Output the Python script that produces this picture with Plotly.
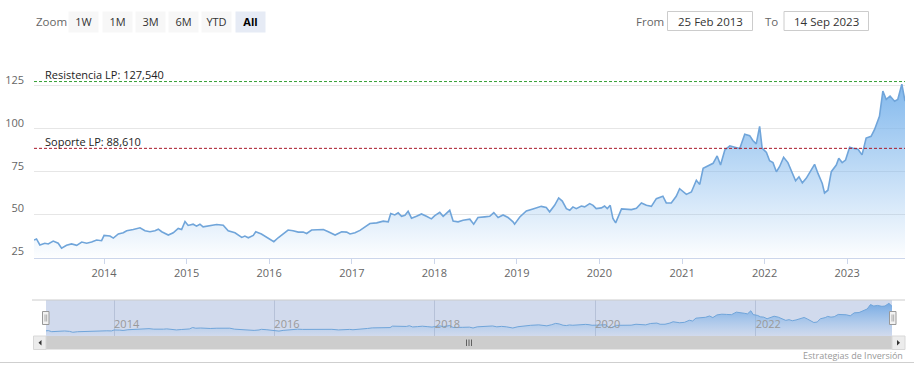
import plotly.graph_objects as go

# ---------------- data ----------------
dates = [
    "2013-02-25", "2013-03-08", "2013-03-23", "2013-04-14", "2013-04-29", "2013-05-21", "2013-06-12", "2013-06-27",
    "2013-07-19", "2013-08-10", "2013-09-02", "2013-09-24", "2013-10-16", "2013-11-07", "2013-11-29", "2013-12-21",
    "2014-01-01", "2014-01-27", "2014-02-11", "2014-03-05", "2014-03-27", "2014-04-11", "2014-05-10", "2014-06-09",
    "2014-07-01", "2014-07-23", "2014-08-14", "2014-08-29", "2014-09-13", "2014-10-12", "2014-11-03", "2014-11-25",
    "2014-12-10", "2014-12-25", "2015-01-08", "2015-01-30", "2015-02-14", "2015-03-01", "2015-03-15", "2015-04-14",
    "2015-05-14", "2015-06-12", "2015-07-04", "2015-08-03", "2015-09-02", "2015-09-16", "2015-10-01", "2015-10-23",
    "2015-11-03", "2015-11-28", "2015-12-20", "2016-01-11", "2016-01-22", "2016-02-10", "2016-03-03", "2016-03-25",
    "2016-04-16", "2016-05-09", "2016-05-31", "2016-06-15", "2016-07-07", "2016-07-29", "2016-08-28", "2016-09-19",
    "2016-10-19", "2016-11-17", "2016-12-09", "2016-12-24", "2017-01-15", "2017-02-06", "2017-02-28", "2017-03-22",
    "2017-04-21", "2017-05-20", "2017-06-11", "2017-06-22", "2017-07-10", "2017-07-25", "2017-08-09", "2017-08-24",
    "2017-09-07", "2017-09-22", "2017-10-14", "2017-11-05", "2017-11-27", "2017-12-19", "2018-01-03", "2018-01-25",
    "2018-02-09", "2018-02-24", "2018-03-10", "2018-03-25", "2018-04-16", "2018-05-08", "2018-06-07", "2018-06-24",
    "2018-07-13", "2018-08-12", "2018-09-03", "2018-09-21", "2018-10-10", "2018-11-01", "2018-11-23", "2018-12-15",
    "2018-12-22", "2019-01-14", "2019-02-12", "2019-03-13", "2019-04-19", "2019-05-11", "2019-05-26", "2019-06-17",
    "2019-07-05", "2019-07-21", "2019-08-08", "2019-08-23", "2019-09-06", "2019-09-21", "2019-10-13", "2019-10-28",
    "2019-11-19", "2019-12-04", "2019-12-18", "2020-01-10", "2020-01-24", "2020-02-05", "2020-02-18", "2020-03-01",
    "2020-03-13", "2020-04-08", "2020-04-30", "2020-05-22", "2020-06-13", "2020-07-05", "2020-07-27", "2020-08-18",
    "2020-09-09", "2020-10-08", "2020-10-23", "2020-11-14", "2020-12-06", "2020-12-21", "2021-01-20", "2021-02-11",
    "2021-03-05", "2021-03-20", "2021-04-04", "2021-04-18", "2021-04-30", "2021-05-18", "2021-06-05", "2021-06-20",
    "2021-07-09", "2021-07-31", "2021-08-22", "2021-09-13", "2021-10-05", "2021-10-27", "2021-11-10", "2021-11-25",
    "2021-12-10", "2021-12-21", "2022-01-09", "2022-01-23", "2022-02-07", "2022-02-22", "2022-03-08", "2022-03-26",
    "2022-04-14", "2022-04-29", "2022-05-18", "2022-06-02", "2022-06-17", "2022-07-04", "2022-07-22", "2022-08-10",
    "2022-08-25", "2022-09-13", "2022-09-23", "2022-10-08", "2022-10-23", "2022-11-14", "2022-11-25", "2022-12-10",
    "2022-12-25", "2023-01-12", "2023-01-27", "2023-02-18", "2023-03-08", "2023-03-26", "2023-04-17", "2023-05-02",
    "2023-05-24", "2023-06-08", "2023-06-23", "2023-07-10", "2023-07-30", "2023-08-13", "2023-08-31", "2023-09-14",
]
prices = [
    35.2, 35.8, 32.3, 33.3, 32.9, 34.6, 33.3, 30.4,
    32.1, 32.9, 32.1, 34.0, 33.3, 34.0, 35.2, 34.8,
    37.9, 37.5, 36.3, 38.7, 39.4, 40.6, 41.3, 42.3,
    40.6, 40.0, 40.6, 41.5, 40.0, 38.1, 39.4, 41.9,
    41.3, 46.0, 43.7, 44.4, 43.3, 44.4, 42.9, 43.7,
    44.2, 43.8, 40.6, 39.4, 36.7, 37.5, 36.5, 37.9,
    40.0, 38.7, 36.7, 35.0, 34.2, 36.5, 38.5, 41.0,
    40.6, 39.8, 39.8, 39.0, 41.0, 41.3, 41.3, 40.0,
    38.1, 40.0, 39.8, 38.7, 39.4, 40.8, 42.9, 44.8,
    45.2, 46.2, 45.8, 50.6, 49.8, 51.0, 49.0, 49.6,
    51.9, 47.9, 49.0, 50.4, 49.0, 47.5, 49.4, 51.3,
    49.0, 50.8, 52.5, 46.3, 45.8, 46.7, 47.3, 44.4,
    48.3, 48.7, 49.0, 51.2, 48.3, 49.8, 48.3, 45.8,
    44.4, 48.6, 52.1, 53.3, 54.8, 54.1, 51.6, 55.4,
    59.7, 57.9, 53.5, 52.5, 54.5, 53.5, 55.0, 54.5,
    56.4, 55.4, 53.5, 53.9, 55.0, 53.5, 55.4, 47.7,
    45.2, 53.3, 52.9, 52.9, 53.7, 56.8, 55.4, 54.8,
    59.3, 60.7, 56.8, 56.8, 60.7, 65.1, 61.8, 63.2,
    70.0, 67.6, 77.0, 77.9, 78.9, 79.9, 84.2, 78.9,
    87.7, 90.1, 89.3, 88.5, 96.9, 96.0, 93.2, 91.2,
    101.4, 88.7, 86.2, 81.4, 80.3, 75.0, 77.9, 83.4,
    80.3, 76.0, 69.7, 72.0, 68.5, 71.1, 75.0, 79.3,
    74.0, 68.1, 62.6, 64.2, 75.0, 78.9, 82.8, 80.3,
    81.8, 89.3, 88.7, 88.1, 84.8, 94.6, 95.6, 99.5,
    107.3, 122.0, 117.1, 119.1, 116.1, 117.1, 126.0, 116.1,
]

resistance_value = 127.54
support_value = 88.61
resistance_label = "Resistencia LP: 127,540"
support_label = "Soporte LP: 88,610"

y_tickvals = [25, 50, 75, 100, 125, 150]
y_ticktext = ["25", "50", "75", "100", "125", ""]
x_tickvals = ["2014-01-01", "2015-01-01", "2016-01-01", "2017-01-01", "2018-01-01",
              "2019-01-01", "2020-01-01", "2021-01-01", "2022-01-01", "2023-01-01"]
x_ticktext = ["2014", "2015", "2016", "2017", "2018", "2019", "2020", "2021", "2022", "2023"]
nav_tickvals = ["2014-01-01", "2016-01-01", "2018-01-01", "2020-01-01", "2022-01-01"]
nav_ticktext = ["2014", "2016", "2018", "2020", "2022"]

zoom_buttons = ["1W", "1M", "3M", "6M", "YTD", "All"]
from_date = "25 Feb 2013"
to_date = "14 Sep 2023"
credit = "Estrategias de Inversión"

# ---------------- layout helpers ----------------
W, H = 914, 373
FONT = "Open Sans"


def px(x):
    return x / W


def py(y):
    return 1 - y / H


LINE = "rgb(112,165,218)"

fig = go.Figure()

fig.add_trace(go.Scatter(
    x=dates, y=prices, mode="lines", xaxis="x", yaxis="y",
    line=dict(color=LINE, width=1.6),
    fill="tozeroy",
    fillgradient=dict(type="vertical", start=25, stop=126,
                      colorscale=[[0, "rgba(124,181,236,0.02)"], [1, "rgba(124,181,236,0.95)"]]),
    hoverinfo="x+y", showlegend=False,
))

fig.add_trace(go.Scatter(
    x=dates, y=prices, mode="lines", xaxis="x2", yaxis="y2",
    line=dict(color=LINE, width=1),
    fill="tozeroy",
    fillgradient=dict(type="vertical", start=18, stop=126,
                      colorscale=[[0, "rgba(124,181,236,0.0)"], [1, "rgba(110,165,225,0.9)"]]),
    hoverinfo="skip", showlegend=False,
))

shapes = []
annotations = []

# Resistance / support lines with labels
for val, col, lab in [(resistance_value, "#35a035", resistance_label),
                      (support_value, "#a8182a", support_label)]:
    shapes.append(dict(type="line", xref="x domain", yref="y", x0=0, x1=1, y0=val, y1=val,
                       line=dict(color=col, width=1, dash="3px,2px"), layer="above"))
    annotations.append(dict(xref="paper", yref="y", x=px(43), y=val, yshift=7,
                            xanchor="left", yanchor="middle", showarrow=False, text=lab,
                            font=dict(family=FONT, size=11, color="#222")))

# Navigator mask / outline
shapes.append(dict(type="rect", xref="x2 domain", yref="y2 domain", x0=0, x1=1, y0=0, y1=1,
                   fillcolor="rgb(209,218,237)", line=dict(width=0), layer="below"))
shapes.append(dict(type="line", xref="paper", yref="paper", x0=px(32), x1=px(905), y0=py(300), y1=py(300),
                   line=dict(color="#cccccc", width=1)))
# Scrollbar
shapes.append(dict(type="rect", xref="paper", yref="paper", x0=px(46), x1=px(892), y0=py(349.5), y1=py(336),
                   fillcolor="#cdcdcd", line=dict(width=0)))
for x0, x1 in [(33.5, 46), (892, 905)]:
    shapes.append(dict(type="rect", xref="paper", yref="paper", x0=px(x0), x1=px(x1), y0=py(349.5), y1=py(336),
                       fillcolor="#ececec", line=dict(color="#d8d8d8", width=1)))
shapes.append(dict(type="path", xref="paper", yref="paper",
                   path=f"M {px(41.5)} {py(340)} L {px(38.5)} {py(342.7)} L {px(41.5)} {py(345.4)} Z",
                   fillcolor="#333", line=dict(width=0)))
shapes.append(dict(type="path", xref="paper", yref="paper",
                   path=f"M {px(897)} {py(340)} L {px(900)} {py(342.7)} L {px(897)} {py(345.4)} Z",
                   fillcolor="#333", line=dict(width=0)))
for gx in [466.5, 469, 471.5]:
    shapes.append(dict(type="line", xref="paper", yref="paper", x0=px(gx), x1=px(gx), y0=py(339.5), y1=py(346),
                       line=dict(color="#444", width=0.8)))
# Navigator handles
for hx in [42.5, 889.5]:
    shapes.append(dict(type="rect", xref="paper", yref="paper", x0=px(hx), x1=px(hx + 6.5), y0=py(324.5), y1=py(311.5),
                       fillcolor="#f2f2f2", line=dict(color="#999", width=1)))
    for lx in [hx + 2.5, hx + 4.2]:
        shapes.append(dict(type="line", xref="paper", yref="paper", x0=px(lx), x1=px(lx), y0=py(321.5), y1=py(314.5),
                           line=dict(color="#999", width=0.8)))
# Bottom border
shapes.append(dict(type="line", xref="paper", yref="paper", x0=0, x1=1, y0=py(362.5), y1=py(362.5),
                   line=dict(color="#cfcfcf", width=1)))

# Range selector
annotations.append(dict(xref="paper", yref="paper", x=px(34), y=py(21), xanchor="left", yanchor="middle",
                        showarrow=False, text="Zoom", font=dict(family=FONT, size=11.5, color="#666")))
btn_x = [68, 101.5, 135, 168, 200.5, 234.5]
for lab, bx in zip(zoom_buttons, btn_x):
    active = lab == "All"
    annotations.append(dict(xref="paper", yref="paper", x=px(bx), y=py(11), xanchor="left", yanchor="top",
                            showarrow=False, text=f"<b>{lab}</b>" if active else lab,
                            width=29, height=19.5, borderpad=0, align="center", valign="middle",
                            bgcolor="#e6ebf5" if active else "#f7f7f7",
                            font=dict(family=FONT, size=11, color="#000" if active else "#333")))

# From / To inputs
annotations.append(dict(xref="paper", yref="paper", x=px(634), y=py(21), xanchor="left", yanchor="middle",
                        showarrow=False, text="From", font=dict(family=FONT, size=11.5, color="#666")))
annotations.append(dict(xref="paper", yref="paper", x=px(763), y=py(21), xanchor="left", yanchor="middle",
                        showarrow=False, text="To", font=dict(family=FONT, size=11.5, color="#666")))
for bx0, bx1, txt in [(667.5, 752.5, from_date), (784, 868.5, to_date)]:
    shapes.append(dict(type="rect", xref="paper", yref="paper", x0=px(bx0), x1=px(bx1), y0=py(30.5), y1=py(11.5),
                       fillcolor="white", line=dict(color="#cccccc", width=1)))
    annotations.append(dict(xref="paper", yref="paper", x=px((bx0 + bx1) / 2), y=py(21), xanchor="center",
                            yanchor="middle", showarrow=False, text=txt,
                            font=dict(family=FONT, size=11.5, color="#333")))

# Credit
annotations.append(dict(xref="paper", yref="paper", x=px(905), y=py(355), xanchor="right", yanchor="middle",
                        showarrow=False, text=credit, font=dict(family=FONT, size=9, color="#999")))

fig.update_layout(
    width=W, height=H,
    margin=dict(l=0, r=0, t=0, b=0),
    paper_bgcolor="white", plot_bgcolor="white",
    showlegend=False,
    hovermode="x",
    font=dict(family=FONT, size=11, color="#666"),
    xaxis=dict(
        domain=[px(34), px(905)], range=["2013-02-25", "2023-09-14"], anchor="y",
        tickvals=x_tickvals, ticktext=x_ticktext,
        showgrid=False, zeroline=False,
        showline=True, linecolor="#ccd6eb", linewidth=1,
        ticks="outside", ticklen=5, tickcolor="#ccd6eb",
        tickfont=dict(family=FONT, size=11, color="#666"),
        fixedrange=True,
    ),
    yaxis=dict(
        domain=[py(257.5), py(43)], range=[25, 150], anchor="x",
        tickvals=y_tickvals, ticktext=y_ticktext,
        showgrid=True, gridcolor="#e6e6e6", gridwidth=1, zeroline=False,
        showline=False, ticks="",
        ticklabelshift=-6, ticklabelstandoff=9,
        tickfont=dict(family=FONT, size=11, color="#666"),
        fixedrange=True,
    ),
    xaxis2=dict(
        domain=[px(46), px(892)], range=["2013-02-25", "2023-09-14"], anchor="y2",
        tickvals=nav_tickvals, ticktext=nav_ticktext,
        showgrid=True, gridcolor="rgb(182,193,216)", gridwidth=1, zeroline=False,
        showline=False, ticks="",
        ticklabelposition="inside right",
        tickfont=dict(family=FONT, size=11, color="#999"),
        fixedrange=True,
    ),
    yaxis2=dict(
        domain=[py(336), py(300)], range=[18, 137], anchor="x2",
        visible=False, showgrid=False, zeroline=False, fixedrange=True,
    ),
    shapes=shapes,
    annotations=annotations,
)

fig.write_html("out.html", config={"displayModeBar": False},
               post_script="document.body.style.margin='0';")
